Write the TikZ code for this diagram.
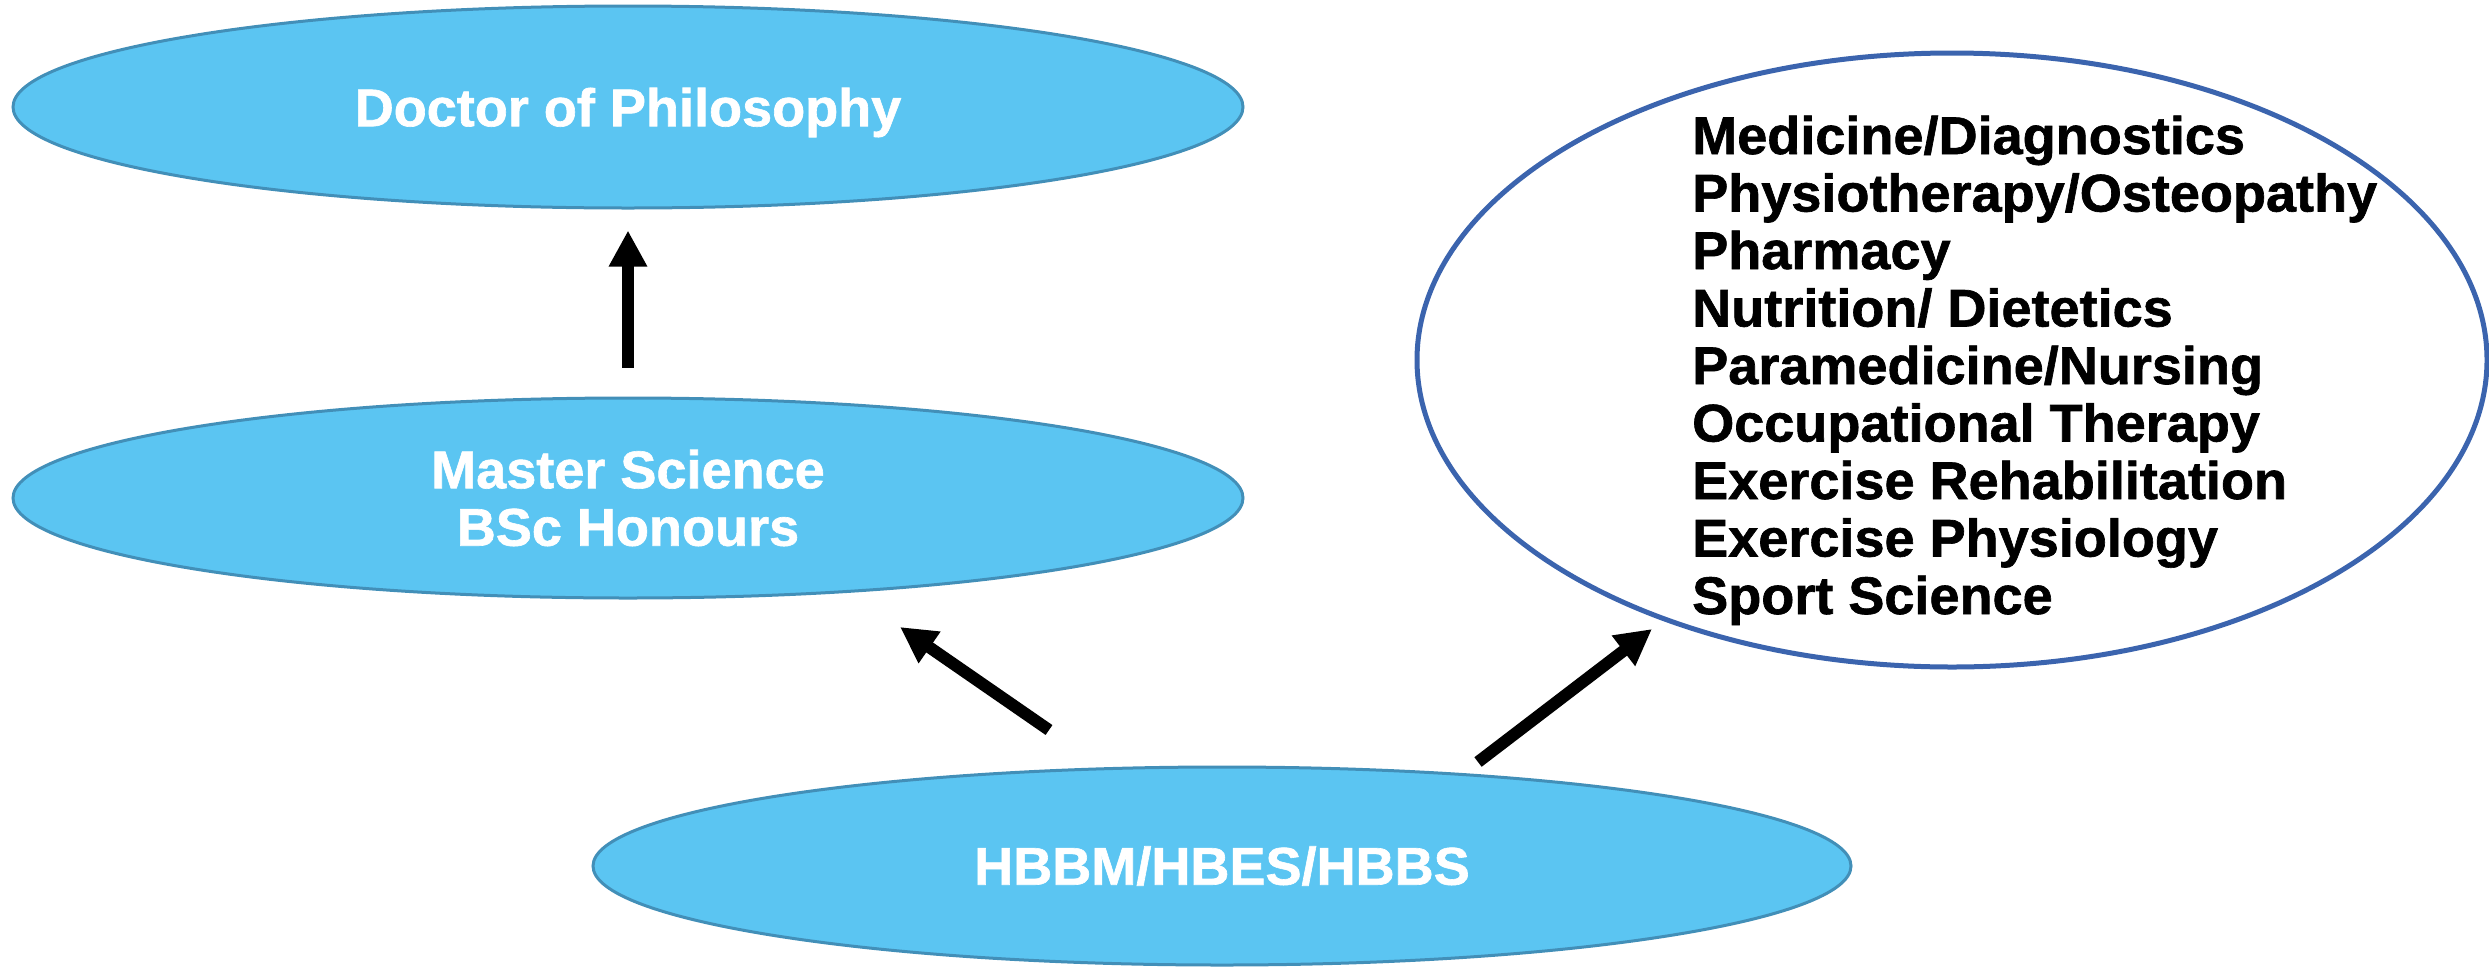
\documentclass[tikz,border=0pt]{standalone}
\usepackage{fontspec}
\setmainfont{Liberation Sans}[BoldFeatures={FakeBold=1.2,FakeStretch=1.02}]
\usetikzlibrary{shapes.geometric,arrows.meta}
\definecolor{bubblefill}{HTML}{5BC5F2}
\definecolor{bubbleline}{HTML}{428FB8}
\definecolor{careerline}{HTML}{3B64AE}
\tikzset{
  bubble/.style={ellipse, draw=bubbleline, line width=3pt, fill=bubblefill,
    inner sep=0pt, text=white, align=center,
    font=\fontsize{53}{57.5}\selectfont\bfseries},
  careers/.style={ellipse, draw=careerline, line width=5pt, fill=white, inner sep=0pt},
  careertext/.style={anchor=base west, inner sep=0pt, text=black,
    font=\fontsize{53}{57.5}\selectfont\bfseries},
  bigarrow/.style={line width=12pt, draw=black, -{Triangle[width=36pt,length=36pt]}}
}
\begin{document}
\begin{tikzpicture}[x=1pt,y=-1pt]
\useasboundingbox (0,0) rectangle (2489,967);
\node[bubble, minimum width=1230pt, minimum height=202pt, text depth=0pt] (phd) at (628,107) {Doctor of Philosophy};
\node[bubble, minimum width=1230pt, minimum height=200pt] (ms) at (628,498) {Master Science\\BSc Honours};
\node[bubble, minimum width=1258pt, minimum height=198pt] (hb) at (1222,866) {HBBM/HBES/HBBS};
\node[careers, minimum width=1070pt, minimum height=614pt] (car) at (1952,360) {};
\foreach \t [count=\i from 0] in {Medicine/Diagnostics,Physiotherapy/Osteopathy,Pharmacy,Nutrition/ Dietetics,Paramedicine/Nursing,Occupational Therapy,Exercise Rehabilitation,Exercise Physiology,Sport Science}
  \node[careertext] (line\i) at (1692,154+57.5*\i) {\t};
\draw[bigarrow, shorten <=29pt, shorten >=21pt] (ms.north) -- (phd.south);
\coordinate (a1tail) at (1049,730);
\coordinate (a1tip) at (900,627);
\coordinate (a2tail) at (1478,762);
\coordinate (a2tip) at (1652,629);
\draw[bigarrow] (a1tail) -- (a1tip);
\draw[bigarrow] (a2tail) -- (a2tip);
\end{tikzpicture}
\end{document}
